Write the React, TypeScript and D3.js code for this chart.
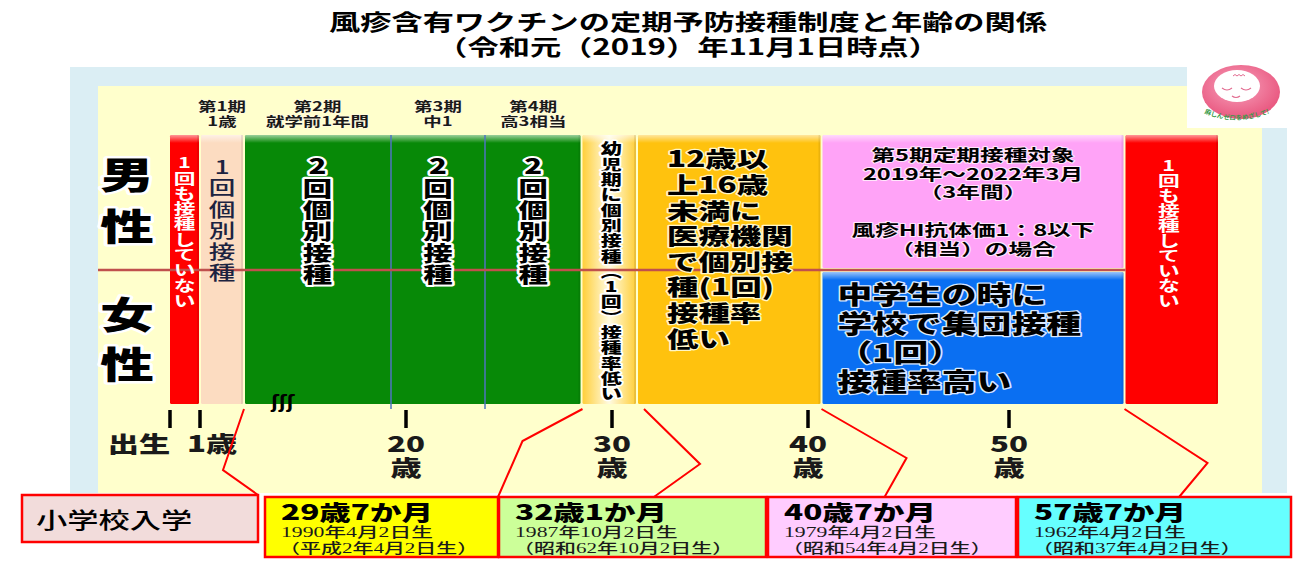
import React from "react";
import * as d3 from "d3";

const W = 1303;
const H = 564;
const FONT = "'Noto Sans CJK JP', 'Noto Sans', sans-serif";
const SERIF = "'Liberation Serif', 'Noto Sans CJK JP', serif";
const SX = 1.42; // the source slide is stretched horizontally

// ---- data ----
const TITLE_LINES = [
  "風疹含有ワクチンの定期予防接種制度と年齢の関係",
  "（令和元（2019）年11月1日時点）",
];
const SEX_LABELS = ["男", "性", "女", "性"];

const AGE_TICKS = [0, 1, 20, 30, 40, 50];
const TICK_LABELS = [["出生"], ["1歳"], ["20", "歳"], ["30", "歳"], ["40", "歳"], ["50", "歳"]];

const COLUMNS = [
  { key: "none0", from: 0, to: 1, rows: "all" },
  { key: "once", from: 1, to: 6, rows: "all" },
  { key: "twice", from: 6, to: 29.58, rows: "all" },
  { key: "infant", from: 29.58, to: 32.08, rows: "all" },
  { key: "teen", from: 32.08, to: 40.58, rows: "all" },
  { key: "fifth", from: 40.58, to: 57.58, rows: "male" },
  { key: "school", from: 40.58, to: 57.58, rows: "female" },
  { key: "none1", from: 57.58, to: 62, rows: "all" },
];
const GREEN_SPLITS = [6, 19.58, 24.58, 29.58];
const TWICE_TEXT = "2回個別接種";

const COLUMN_TEXT: Record<string, string[]> = {
  none0: ["1回も接種していない"],
  once: ["1回個別接種"],
  infant: ["幼児期に個別接種︵1回︶接種率低い"],
  teen: ["12歳以", "上16歳", "未満に", "医療機関", "で個別接", "種(1回)", "接種率", "低い"],
  fifth: ["第5期定期接種対象", "2019年～2022年3月", "（3年間）", "", "風疹HI抗体価1：8以下", "（相当）の場合"],
  school: ["中学生の時に", "学校で集団接種", "（1回）", "接種率高い"],
  none1: ["1回も接種していない"],
};

const PERIODS = [
  { from: 1, to: 6, lines: ["第1期", "1歳"] },
  { from: 6, to: 19.58, lines: ["第2期", "就学前1年間"] },
  { from: 19.58, to: 24.58, lines: ["第3期", "中1"] },
  { from: 24.58, to: 29.58, lines: ["第4期", "高3相当"] },
];

const BOXES = [
  ["小学校入学"],
  ["29歳7か月", "1990年4月2日生", "（平成2年4月2日生）"],
  ["32歳1か月", "1987年10月2日生", "（昭和62年10月2日生）"],
  ["40歳7か月", "1979年4月2日生", "（昭和54年4月2日生）"],
  ["57歳7か月", "1962年4月2日生", "（昭和37年4月2日生）"],
];
const CONNECTOR_AGES = [6, 29.58, 32.08, 40.58, 57.58];
const LOGO_TEXT = "麻しんゼロをめざして!";

// ---- styles / layout ----
const FILLS: Record<string, string> = {
  none0: "#ff0000",
  once: "#fcdcc1",
  twice: "#078907",
  infant: "url(#infantGrad)",
  teen: "#ffc20e",
  fifth: "#ffa3f7",
  school: "#0a6ff2",
  none1: "#ff0000",
};
const BOX_FILLS = ["#f2dcdb", "#ffff00", "#ccff99", "#ffccff", "#66ffff"];
const BOX_X0 = [22, 265, 499, 768, 1018];
const BOX_X1 = [258, 498, 766, 1016, 1291];
const TICK_DX = [-30, 12, 0, 0, 0, 0];
// bend point (x offset from start, y) and end position as share of box width
const CONNECTOR_SHAPE = [
  { sdx: 0, bdx: -21, by: 470, end: 1 },
  { sdx: 1, bdx: -60, by: 441, end: 1 },
  { sdx: 7, bdx: 56, by: 464, end: 0.58 },
  { sdx: 0, bdx: 85, by: 458, end: 0.47 },
  { sdx: 0, bdx: 83, by: 463, end: 0.59 },
];

const AGE_KNOTS = [0, 1, 6, 19.58, 20, 24.58, 29.58, 30, 32.08, 40, 40.58, 50, 57.58, 62];
const X_KNOTS = [169, 200, 244, 391, 406, 485, 581.5, 612, 637, 808, 821.5, 1009, 1124.5, 1219];

const BAR_TOP = 135;
const BAR_MID = 270;
const BAR_BOTTOM = 404;

type LabelProps = {
  x: number;
  y: number;
  text: string;
  size: number;
  anchor?: "start" | "middle" | "end";
  sx?: number;
  fill?: string;
  weight?: number;
  halo?: string;
  haloWidth?: number;
  family?: string;
};

function Label({ x, y, text, size, anchor = "start", sx = SX, fill = "#000", weight = 700, halo, haloWidth = 3, family = FONT }: LabelProps) {
  return (
    <text
      transform={`translate(${x},${y}) scale(${sx},1)`}
      fontSize={size}
      textAnchor={anchor}
      dominantBaseline="central"
      fill={fill}
      fontWeight={weight}
      fontFamily={family}
      stroke={halo ?? "none"}
      strokeWidth={halo ? haloWidth : 0}
      strokeLinejoin="round"
      paintOrder="stroke"
    >
      {text}
    </text>
  );
}

function VText({ x, y0, step, chars, ...rest }: { x: number; y0: number; step: number; chars: string } & Omit<LabelProps, "x" | "y" | "text">) {
  return (
    <g>
      {Array.from(chars).map((c, i) => (
        <Label key={i} x={x} y={y0 + i * step} text={c} anchor="middle" {...rest} />
      ))}
    </g>
  );
}

export default function App() {
  const x = d3.scaleLinear().domain(AGE_KNOTS).range(X_KNOTS);
  const rowSpan = (rows: string) =>
    rows === "male" ? [BAR_TOP, BAR_MID - 2] : rows === "female" ? [BAR_MID + 2, BAR_BOTTOM] : [BAR_TOP, BAR_BOTTOM];
  const mid = (a: number, b: number) => (x(a) + x(b)) / 2;

  return (
    <svg width={W} height={H} style={{ position: "absolute", left: 0, top: 0, background: "#fff" }}>
      <defs>
        <linearGradient id="infantGrad" x1="0" y1="0" x2="1" y2="0">
          <stop offset="0" stopColor="#ffcf3a" />
          <stop offset="0.5" stopColor="#fffbe2" />
          <stop offset="1" stopColor="#ffcf3a" />
        </linearGradient>
        <linearGradient id="bevel" x1="0" y1="0" x2="0" y2="1">
          <stop offset="0" stopColor="#fff" stopOpacity="0.6" />
          <stop offset="1" stopColor="#fff" stopOpacity="0" />
        </linearGradient>
        <radialGradient id="logoGrad" cx="0.45" cy="0.4" r="0.6">
          <stop offset="0" stopColor="#f7a3bd" />
          <stop offset="1" stopColor="#e9577f" />
        </radialGradient>
        <path id="logoArc" d="M1190,106 Q1236,134 1284,106" />
      </defs>

      {/* background panels */}
      <rect x={70} y={67} width={1217} height={426} fill="#dbeef4" />
      <rect x={98} y={86} width={1164} height={407} fill="#ffffcc" />

      {/* logo */}
      <g>
        <rect x={1187} y={67} width={101} height={61} fill="#fff" />
        <ellipse cx={1241} cy={92} rx={39} ry={27} fill="url(#logoGrad)" />
        <ellipse cx={1237} cy={86} rx={23} ry={16} fill="#fff" />
        <path d="M1222,88 q5,4 10,0 M1241,88 q5,4 10,0 M1232,96 q4,3 8,0" fill="none" stroke="#e26b90" strokeWidth={1.2} />
        <path d="M1233,76 q2,-3 4,0 q2,-3 4,0 q2,-3 4,0" fill="none" stroke="#e26b90" strokeWidth={1} />
        <text fontSize={6.5} fontFamily={FONT} fontWeight={700} fill="#3a9a4a">
          <textPath href="#logoArc" startOffset="50%" textAnchor="middle">
            {LOGO_TEXT}
          </textPath>
        </text>
      </g>

      {/* title */}
      {TITLE_LINES.map((t, i) => (
        <Label key={t} x={688} y={21 + i * 25} text={t} size={22} anchor="middle" />
      ))}

      {/* period labels */}
      {PERIODS.map((p) =>
        p.lines.map((l, j) => (
          <Label key={l} x={mid(p.from, p.to)} y={105 + j * 15} text={l} size={13} anchor="middle" fill="#1a1a1a" halo="#fffbe0" haloWidth={1.5} />
        ))
      )}

      {/* bars */}
      {COLUMNS.map((c) => {
        const [y0, y1] = rowSpan(c.rows);
        const x0 = x(c.from) + 1;
        const x1 = x(c.to) - 1;
        return (
          <g key={c.key}>
            <rect x={x0} y={y0} width={x1 - x0} height={y1 - y0} fill={FILLS[c.key]} rx={1.5} />
            <rect x={x0} y={y0} width={x1 - x0} height={8} fill="url(#bevel)" rx={1.5} />
            <rect x={x1 - 2} y={y0} width={2} height={y1 - y0} fill="#000" opacity={0.08} />
          </g>
        );
      })}

      {/* dividers inside the green column */}
      {GREEN_SPLITS.slice(1, -1).map((a) => (
        <line key={a} x1={x(a)} x2={x(a)} y1={BAR_TOP} y2={BAR_BOTTOM + 5} stroke="#4f74c0" strokeWidth={1.5} />
      ))}

      {/* male / female divider */}
      <line x1={98} x2={x(57.58) + 1} y1={BAR_MID} y2={BAR_MID} stroke="#c0504d" strokeWidth={2.5} />

      {/* column texts */}
      <VText x={mid(0, 1)} y0={162} step={15.3} chars={COLUMN_TEXT.none0[0]} size={14.5} sx={1.5} fill="#fff" />
      <VText x={mid(1, 6)} y0={166} step={21.2} chars={COLUMN_TEXT.once[0]} size={19} sx={1.4} fill="#1c2340" weight={500} />
      {GREEN_SPLITS.slice(0, -1).map((a, i) => (
        <VText key={a} x={mid(a, GREEN_SPLITS[i + 1])} y0={165} step={21.6} chars={TWICE_TEXT} size={21} sx={1.4} weight={900} halo="#fff" haloWidth={4} />
      ))}
      <VText x={mid(29.58, 32.08) + 2} y0={148} step={15.3} chars={COLUMN_TEXT.infant[0]} size={14.5} sx={1.45} weight={900} halo="#fff" haloWidth={3} />
      {COLUMN_TEXT.teen.map((l, i) => (
        <Label key={l} x={x(32.08) + 30} y={158 + i * 25.6} text={l} size={22} sx={1.43} weight={900} halo="#fff6c8" haloWidth={2.5} />
      ))}
      {COLUMN_TEXT.fifth.map((l, i) =>
        l ? <Label key={l} x={mid(40.58, 57.58)} y={154 + i * 18.8} text={l} size={16} sx={1.48} anchor="middle" halo="#ffe6fb" haloWidth={2} /> : null
      )}
      {COLUMN_TEXT.school.map((l, i) => (
        <Label key={l} x={x(40.58) + 16} y={293 + i * 29} text={l} size={24.5} sx={1.42} weight={900} halo="#d8e8ff" haloWidth={2.5} />
      ))}
      <VText x={mid(57.58, 62) - 3} y0={165} step={15} chars={COLUMN_TEXT.none1[0]} size={14.5} sx={1.5} fill="#fff" />

      {/* small mark at the foot of the green bar */}
      <Label x={283} y={402} text="ʃʃʃ" size={17} sx={1.1} anchor="middle" family="'DejaVu Sans', sans-serif" weight={700} />

      {/* sex labels */}
      {SEX_LABELS.map((s, i) => (
        <Label key={i} x={127} y={[173, 225, 313, 363][i]} text={s} size={37} sx={1.45} anchor="middle" weight={900} halo="#fff" haloWidth={5} />
      ))}

      {/* age axis */}
      {AGE_TICKS.map((a, i) => (
        <g key={a}>
          <line x1={x(a) + (a === 0 ? 1 : 0)} x2={x(a) + (a === 0 ? 1 : 0)} y1={410} y2={428} stroke="#000" strokeWidth={3.5} />
          {TICK_LABELS[i].map((l, j) => (
            <Label key={l} x={x(a) + TICK_DX[i]} y={443 + j * 24} text={l} size={22} sx={1.42} anchor="middle" weight={900} fill="#1a1a1a" />
          ))}
        </g>
      ))}

      {/* connector lines */}
      {CONNECTOR_AGES.map((a, i) => {
        const s = CONNECTOR_SHAPE[i];
        const sx0 = x(a) + s.sdx;
        const ex = BOX_X0[i] + (BOX_X1[i] - BOX_X0[i]) * s.end;
        const ey = i === 0 ? 495 : 497;
        const pts: [number, number][] = [[sx0, 409], [sx0 + s.bdx, s.by], [ex, ey]];
        return <path key={a} d={d3.line()(pts) ?? ""} fill="none" stroke="#ff0000" strokeWidth={2} />;
      })}

      {/* bottom boxes */}
      {BOXES.map((lines, i) => {
        const x0 = BOX_X0[i];
        const x1 = BOX_X1[i];
        const y0 = i === 0 ? 495 : 497;
        const y1 = i === 0 ? 542 : 557;
        return (
          <g key={i}>
            <rect x={x0} y={y0} width={x1 - x0} height={y1 - y0} fill={BOX_FILLS[i]} stroke="#ff0000" strokeWidth={2.5} />
            {i === 0 ? (
              <Label x={x0 + 14} y={519} text={lines[0]} size={22} sx={1.42} weight={500} />
            ) : (
              <>
                <Label x={x0 + 16} y={511} text={lines[0]} size={21} sx={1.5} weight={900} />
                <Label x={x0 + 16} y={532} text={lines[1]} size={14} sx={1.55} weight={500} family={SERIF} fill="#1a1a1a" />
                <Label x={x0 + 14} y={548} text={lines[2]} size={14} sx={1.5} weight={500} family={SERIF} fill="#1a1a1a" />
              </>
            )}
          </g>
        );
      })}
    </svg>
  );
}
